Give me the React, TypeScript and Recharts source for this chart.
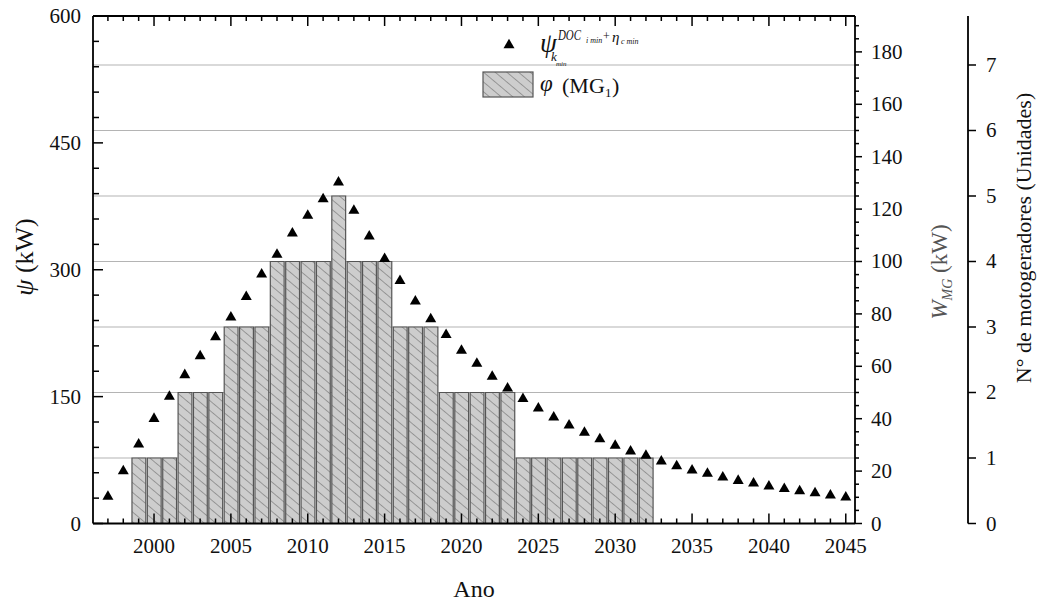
import React from 'react'
import { ComposedChart, Bar, Scatter, XAxis, YAxis, CartesianGrid } from 'recharts'

// anos com valor de psi
const years = [
  1997, 1998, 1999, 2000, 2001, 2002, 2003, 2004, 2005, 2006,
  2007, 2008, 2009, 2010, 2011, 2012, 2013, 2014, 2015, 2016,
  2017, 2018, 2019, 2020, 2021, 2022, 2023, 2024, 2025, 2026,
  2027, 2028, 2029, 2030, 2031, 2032, 2033, 2034, 2035, 2036,
  2037, 2038, 2039, 2040, 2041, 2042, 2043, 2044, 2045,
]

// psi (kW)
const psiValues = [
  31.7, 62, 93.6, 123.9, 150, 175.6, 198, 220.5, 243.8, 268,
  294.6, 318, 343, 364, 383.6, 403.4, 370, 339.6, 313, 287,
  262.7, 241.8, 223, 204.3, 189, 173.6, 159.8, 147.5, 136.2, 125.6,
  116, 107.4, 99.9, 92, 85.4, 80.2, 73.5, 68, 62.9, 58.9,
  54.6, 50.6, 47.5, 44, 41.1, 38.4, 36, 33.3, 31,
]

// numero de motogeradores por ano
const barYears = [
  1999, 2000, 2001, 2002, 2003, 2004, 2005, 2006, 2007, 2008,
  2009, 2010, 2011, 2012, 2013, 2014, 2015, 2016, 2017, 2018,
  2019, 2020, 2021, 2022, 2023, 2024, 2025, 2026, 2027, 2028,
  2029, 2030, 2031, 2032,
]
const motogeradores = [
  1, 1, 1, 2, 2, 2, 3, 3, 3, 4,
  4, 4, 4, 5, 4, 4, 4, 3, 3, 3,
  2, 2, 2, 2, 2, 1, 1, 1, 1, 1,
  1, 1, 1, 1,
]

const psiTicks = [0, 30, 60, 90, 120, 150, 180, 210, 240, 270, 300, 330, 360, 390, 420, 450, 480, 510, 540, 570, 600]
const psiLabels = [0, 150, 300, 450, 600]
const wTicks = [0, 5, 10, 15, 20, 25, 30, 35, 40, 45, 50, 55, 60, 65, 70, 75, 80, 85, 90, 95, 100, 105, 110, 115, 120, 125, 130, 135, 140, 145, 150, 155, 160, 165, 170, 175, 180, 185, 190]
const wLabels = [0, 20, 40, 60, 80, 100, 120, 140, 160, 180]
const nTicks = [0, 1, 2, 3, 4, 5, 6, 7]
const yearLabels = [2000, 2005, 2010, 2015, 2020, 2025, 2030, 2035, 2040, 2045]

const rows = years.map((year, i) => {
  const j = barYears.indexOf(year)
  return { year, psi: psiValues[i], units: j >= 0 ? motogeradores[j] : undefined }
})

const FONT = '"Liberation Serif", "Times New Roman", serif'
const AXIS = { stroke: '#000', strokeWidth: 1.8 }

const BottomTick = ({ x, y, payload }: any) => {
  const major = yearLabels.includes(payload.value)
  return (
    <g>
      <line x1={x} x2={x} y1={y} y2={y - (major ? 10 : 5)} stroke="#000" strokeWidth={1.5} />
      {major && (
        <text x={x} y={y + 29} textAnchor="middle" fontSize={21} fontFamily={FONT} fill="#111">
          {payload.value}
        </text>
      )}
    </g>
  )
}

const TopTick = ({ x, y, payload }: any) => {
  const major = yearLabels.includes(payload.value)
  return <line x1={x} x2={x} y1={y} y2={y + (major ? 10 : 5)} stroke="#000" strokeWidth={1.5} />
}

const LeftTick = ({ x, y, payload }: any) => {
  const major = psiLabels.includes(payload.value)
  return (
    <g>
      <line x1={x} x2={x + (major ? 10 : 6)} y1={y} y2={y} stroke="#000" strokeWidth={1.5} />
      {major && (
        <text x={x - 12} y={y + 7} textAnchor="end" fontSize={21} fontFamily={FONT} fill="#111">
          {payload.value}
        </text>
      )}
    </g>
  )
}

const WTick = ({ x, y, payload }: any) => {
  const major = wLabels.includes(payload.value)
  return (
    <g>
      <line x1={x} x2={x + (major ? 7 : 4)} y1={y} y2={y} stroke="#000" strokeWidth={1.5} />
      {major && (
        <text x={x + 16} y={y + 7} textAnchor="start" fontSize={21} fontFamily={FONT} fill="#111">
          {payload.value}
        </text>
      )}
    </g>
  )
}

const NTick = ({ x, y, payload }: any) => (
  <g>
    <line x1={x} x2={x + 8} y1={y} y2={y} stroke="#000" strokeWidth={1.5} />
    <text x={x + 18} y={y + 7} textAnchor="start" fontSize={21} fontFamily={FONT} fill="#111">
      {payload.value}
    </text>
  </g>
)

const Triangle = ({ cx, cy }: any) => {
  if (cx == null || cy == null) return null
  const s = 11
  const h = (s * Math.sqrt(3)) / 2
  return (
    <path
      d={`M${cx},${cy - (2 * h) / 3} L${cx + s / 2},${cy + h / 3} L${cx - s / 2},${cy + h / 3} Z`}
      fill="#000"
    />
  )
}

const HatchDefs = ({ id }: { id: string }) => (
  <defs>
    <pattern id={id} patternUnits="userSpaceOnUse" width={7.5} height={7.5} patternTransform="rotate(-50)">
      <rect width={7.5} height={7.5} fill="#cdcdcd" />
      <line x1={0} y1={0} x2={0} y2={7.5} stroke="#6a6a6a" strokeWidth={1.1} />
    </pattern>
  </defs>
)

// legenda e titulos dos eixos, por cima do grafico
const Overlay = () => (
  <svg width={1039} height={602} style={{ position: 'absolute', left: 0, top: 0, pointerEvents: 'none' }}>
    <HatchDefs id="hatchLegend" />
    <Triangle cx={509} cy={45} />
    <g fontFamily={FONT} fill="#111">
      <text x={540} y={51.5} fontSize={27} fontStyle="italic">ψ</text>
      <text x={558} y={40} fontSize={15} fontStyle="italic" textLength={23} lengthAdjust="spacingAndGlyphs">DOC</text>
      <text x={586} y={43} fontSize={8} fontStyle="italic">i min</text>
      <text x={603} y={40} fontSize={12}>+</text>
      <text x={612} y={41.5} fontSize={15} fontStyle="italic">η</text>
      <text x={621} y={44} fontSize={8} fontStyle="italic">c min</text>
      <text x={551} y={61} fontSize={13} fontStyle="italic">k</text>
      <text x={556} y={65.5} fontSize={7} fontStyle="italic">min</text>
    </g>
    <rect x={483} y={72} width={50} height={25} fill="url(#hatchLegend)" stroke="#555" strokeWidth={1.2} />
    <g fontFamily={FONT} fill="#111">
      <text x={540} y={91} fontSize={23} fontStyle="italic">φ</text>
      <text x={562} y={93} fontSize={22}>(MG</text>
      <text x={605} y={97} fontSize={13}>1</text>
      <text x={612} y={93} fontSize={22}>)</text>
    </g>
    <g fontFamily={FONT}>
      <text transform="translate(33,257) rotate(-90)" textAnchor="middle" fontSize={26} fill="#111">
        <tspan fontStyle="italic">ψ</tspan> (kW)
      </text>
      <text transform="translate(947,272) rotate(-90)" textAnchor="middle" fontSize={23} fill="#555">
        <tspan fontStyle="italic">W</tspan>
        <tspan fontStyle="italic" fontSize={14} dy={5}>MG</tspan>
        <tspan dy={-5}> (kW)</tspan>
      </text>
      <text transform="translate(1031,238) rotate(-90)" textAnchor="middle" fontSize={22} fill="#111">
        N° de motogeradores (Unidades)
      </text>
      <text x={474} y={597} textAnchor="middle" fontSize={24} fill="#111">
        Ano
      </text>
    </g>
  </svg>
)

export default function App() {
  return (
    <div style={{ position: 'absolute', left: 0, top: 0, width: 1039, height: 602, background: '#fff' }}>
      <ComposedChart
        width={1039}
        height={602}
        data={rows}
        margin={{ top: 0, right: 0, bottom: 0, left: 0 }}
        barGap={0}
        barCategoryGap={0}
      >
        <HatchDefs id="hatchBar" />
        <CartesianGrid xAxisId="b" yAxisId="r2" vertical={false} stroke="#b4b4b4" strokeWidth={1.2} />
        <XAxis
          xAxisId="b"
          dataKey="year"
          type="number"
          domain={[1996.03, 2045.6]}
          allowDataOverflow
          ticks={years}
          interval={0}
          tickSize={0}
          tickMargin={0}
          tickLine={false}
          height={78.5}
          axisLine={AXIS}
          tick={<BottomTick />}
        />
        <XAxis
          xAxisId="t"
          orientation="top"
          dataKey="year"
          type="number"
          domain={[1996.03, 2045.6]}
          allowDataOverflow
          ticks={years}
          interval={0}
          tickSize={0}
          tickMargin={0}
          tickLine={false}
          height={16}
          axisLine={AXIS}
          tick={<TopTick />}
        />
        <YAxis
          yAxisId="psi"
          orientation="left"
          type="number"
          domain={[0, 600]}
          ticks={psiTicks}
          interval={0}
          width={93}
          tickSize={0}
          tickMargin={0}
          tickLine={false}
          axisLine={AXIS}
          tick={<LeftTick />}
        />
        {/* W_MG (kW), junto ao grafico */}
        <YAxis
          yAxisId="r1"
          orientation="right"
          type="number"
          domain={[0, 193.7]}
          allowDataOverflow
          ticks={wTicks}
          interval={0}
          width={113}
          tickSize={0}
          tickMargin={0}
          tickLine={false}
          axisLine={AXIS}
          tick={<WTick />}
        />
        {/* numero de motogeradores, eixo externo */}
        <YAxis
          yAxisId="r2"
          orientation="right"
          type="number"
          domain={[0, 7.748]}
          allowDataOverflow
          ticks={nTicks}
          interval={0}
          width={71}
          tickSize={0}
          tickMargin={0}
          tickLine={false}
          axisLine={AXIS}
          tick={<NTick />}
        />
        <Bar
          xAxisId="b"
          yAxisId="r2"
          dataKey="units"
          barSize={15.38}
          fill="url(#hatchBar)"
          stroke="#555"
          strokeWidth={1.2}
          isAnimationActive={false}
        />
        <Scatter
          xAxisId="b"
          yAxisId="psi"
          dataKey="psi"
          shape={<Triangle />}
          isAnimationActive={false}
        />
      </ComposedChart>
      <Overlay />
    </div>
  )
}
